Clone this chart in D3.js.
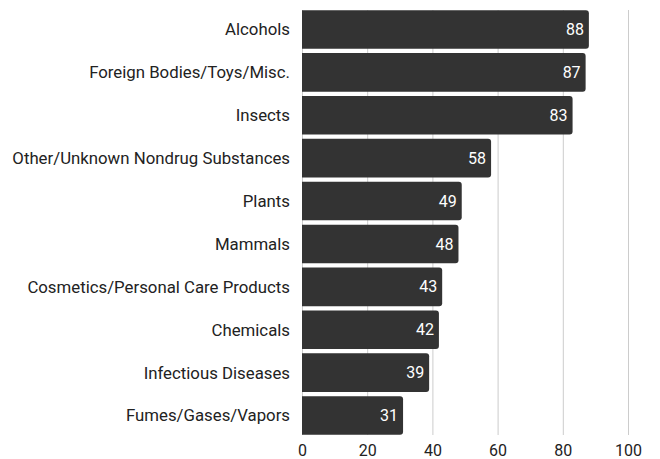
<!DOCTYPE html>
<html><head><meta charset="utf-8">
<script src="https://cdn.jsdelivr.net/npm/d3@7"></script>
<style>body{margin:0;background:#fff}svg{display:block}text{font-family:Roboto,sans-serif}</style>
</head><body><svg id="c" width="660" height="459"></svg>
<script>
const categories = ["Alcohols","Foreign Bodies/Toys/Misc.","Insects","Other/Unknown Nondrug Substances","Plants","Mammals","Cosmetics/Personal Care Products","Chemicals","Infectious Diseases","Fumes/Gases/Vapors"];
const values = [88,87,83,58,49,48,43,42,39,31];
const ticks = [0,20,40,60,80,100];

const svg = d3.select("#c");
const x = d3.scaleLinear().domain([0,100]).range([302,628]);
const y = d3.scaleBand().domain(categories).range([8,437]).paddingInner(0.1).paddingOuter(0.05);

svg.append("g").selectAll("line").data(ticks).join("line")
  .attr("x1",d=>x(d)+0.5).attr("x2",d=>x(d)+0.5)
  .attr("y1",10).attr("y2",435)
  .attr("stroke","#cccccc").attr("stroke-width",1);

const r = 3;
function barPath(x0,x1,y0,h){
  return `M${x0},${y0}H${x1-r}Q${x1},${y0} ${x1},${y0+r}V${y0+h-r}Q${x1},${y0+h} ${x1-r},${y0+h}H${x0}Z`;
}
const data = categories.map((c,i)=>({c,v:values[i]}));
svg.append("g").selectAll("path").data(data).join("path")
  .attr("d",d=>barPath(x(0),x(d.v),y(d.c),y.bandwidth()))
  .attr("fill","#333333");

svg.append("g").selectAll("text").data(data).join("text")
  .attr("x",d=>x(d.v)-5).attr("y",d=>y(d.c)+y.bandwidth()/2)
  .attr("dy","0.35em").attr("text-anchor","end")
  .attr("fill","#ffffff").attr("font-size",16)
  .text(d=>d.v);

svg.append("g").selectAll("text").data(data).join("text")
  .attr("x",290).attr("y",d=>y(d.c)+y.bandwidth()/2)
  .attr("dy","0.35em").attr("text-anchor","end")
  .attr("fill","#222222").attr("font-size",16.8)
  .text(d=>d.c);

const xAxis = d3.axisBottom(x).tickValues(ticks).tickSize(0).tickPadding(0);
const ga = svg.append("g").attr("transform","translate(0,445)").call(xAxis);
ga.select(".domain").remove();
ga.selectAll("text").attr("font-size",16).attr("fill","#222").attr("font-family","Roboto,sans-serif").attr("dy","0.71em");
</script></body></html>
